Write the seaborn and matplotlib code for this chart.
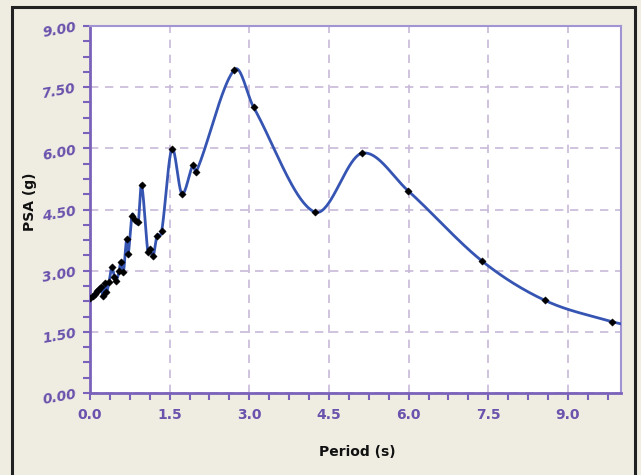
import numpy as np
import pandas as pd
import matplotlib
matplotlib.use("Agg")
import matplotlib.pyplot as plt
from matplotlib.patches import Rectangle
from matplotlib.ticker import MultipleLocator, FormatStrFormatter
import seaborn as sns

# ---- data ----
period = [0.00, 0.05, 0.09, 0.13, 0.16, 0.20, 0.25, 0.28, 0.31, 0.36, 0.41, 0.46,
          0.49, 0.55, 0.58, 0.63, 0.69, 0.72, 0.79, 0.85, 0.91, 0.97, 1.09, 1.13,
          1.19, 1.26, 1.35, 1.54, 1.73, 1.94, 2.00, 2.72, 3.08, 4.23, 5.12, 5.99,
          7.38, 8.57, 9.83, 10.30]
psa = [2.32, 2.38, 2.43, 2.50, 2.52, 2.61, 2.38, 2.69, 2.48, 2.73, 3.08, 2.85,
       2.74, 3.00, 3.22, 2.98, 3.77, 3.41, 4.35, 4.25, 4.20, 5.11, 3.46, 3.54,
       3.36, 3.85, 3.97, 5.98, 4.89, 5.59, 5.42, 7.93, 7.01, 4.44, 5.88, 4.96,
       3.24, 2.27, 1.75, 1.62]

x_ticks = [0.0, 1.5, 3.0, 4.5, 6.0, 7.5, 9.0]
y_ticks = [0.00, 1.50, 3.00, 4.50, 6.00, 7.50, 9.00]

# ---- smooth curve: cubic Hermite with Catmull-Rom tangents ----
def smooth(xs, ys, n=40):
    xs = np.asarray(xs, float); ys = np.asarray(ys, float)
    m = np.empty_like(ys)
    m[1:-1] = (ys[2:] - ys[:-2]) / (xs[2:] - xs[:-2])
    m[0] = (ys[1] - ys[0]) / (xs[1] - xs[0])
    m[-1] = (ys[-1] - ys[-2]) / (xs[-1] - xs[-2])
    ox, oy = [], []
    for i in range(len(xs) - 1):
        h = xs[i + 1] - xs[i]
        t = np.linspace(0, 1, n, endpoint=False)
        h00 = 2*t**3 - 3*t**2 + 1; h10 = t**3 - 2*t**2 + t
        h01 = -2*t**3 + 3*t**2;    h11 = t**3 - t**2
        ox.extend(xs[i] + t*h)
        oy.extend(h00*ys[i] + h10*h*m[i] + h01*ys[i+1] + h11*h*m[i+1])
    ox.append(xs[-1]); oy.append(ys[-1])
    return np.array(ox), np.array(oy)

sx, sy = smooth(period, psa)
curve = pd.DataFrame({"Period": sx, "PSA": sy})
pts = pd.DataFrame({"Period": period, "PSA": psa})

sns.set_theme(style="white")
plt.rcParams["font.family"] = ["DejaVu Sans"]

BG = "#efede2"
PURPLE = "#6a52ad"
fig = plt.figure(figsize=(6.41, 4.75), dpi=100, facecolor=BG)
ax = fig.add_axes([0.1404, 0.1726, 0.8284, 0.7726])
ax.set_facecolor("white")

# outer frame
fig.patches.append(Rectangle((12/641, -0.05), (635-12)/641, 1.05 - 7/475,
                             transform=fig.transFigure, fill=False,
                             edgecolor="#222222", linewidth=2.2))

sns.lineplot(data=curve, x="Period", y="PSA", sort=False, estimator=None,
             color="#3655b3", linewidth=2.0, ax=ax, zorder=3)
sns.scatterplot(data=pts, x="Period", y="PSA", marker="D", s=14, color="black",
                edgecolor="black", linewidth=0.3, ax=ax, zorder=4)

ax.set_xlim(0, 10.0)
ax.set_ylim(0, 9.0)
ax.set_xticks(x_ticks)
ax.set_yticks(y_ticks)
ax.xaxis.set_minor_locator(MultipleLocator(0.375))
ax.yaxis.set_minor_locator(MultipleLocator(0.375))
ax.xaxis.set_major_formatter(FormatStrFormatter("%.1f"))
ax.yaxis.set_major_formatter(FormatStrFormatter("%.2f"))

ax.grid(True, which="major", color="#c8b9d8", linestyle=(0, (5, 4)), linewidth=1.2)
ax.set_axisbelow(True)

for side in ["left", "bottom"]:
    ax.spines[side].set_color("#7a62bb"); ax.spines[side].set_linewidth(2.0)
for side in ["top", "right"]:
    ax.spines[side].set_color("#a194d2"); ax.spines[side].set_linewidth(1.5)
    ax.spines[side].set_visible(True)

ax.tick_params(which="both", direction="out", color="#7a62bb", width=1.5,
               length=5, bottom=True, left=True, top=False, right=False)
ax.tick_params(axis="x", which="major", labelsize=10, labelcolor=PURPLE, pad=6)
ax.tick_params(axis="y", which="major", labelsize=10, labelcolor=PURPLE, pad=4)
for lab in ax.get_xticklabels():
    lab.set_fontweight("bold")
for lab in ax.get_yticklabels():
    lab.set_fontweight("bold"); lab.set_fontstyle("italic"); lab.set_rotation(10)

ax.set_xlabel("Period (s)", fontsize=10, fontweight="bold", color="#111111")
ax.set_ylabel("PSA (g)", fontsize=10, fontweight="bold", color="#111111")
ax.xaxis.set_label_coords(0.503, -0.161)
ax.yaxis.set_label_coords(-0.113, 0.52)
ax.xaxis.label.set_va("center")
ax.yaxis.label.set_va("center")

fig.savefig("out.png", dpi=100, facecolor=BG)
